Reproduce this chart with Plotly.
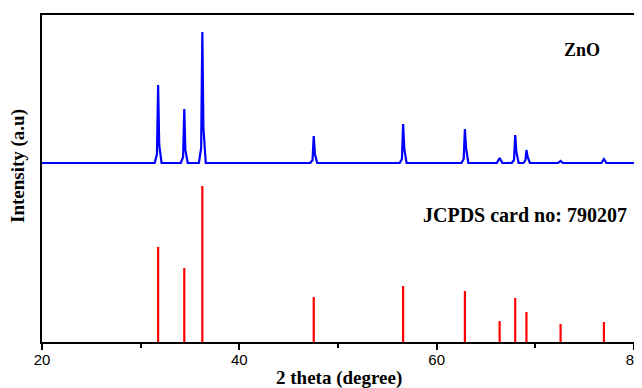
import plotly.graph_objects as go

# Measured XRD pattern of ZnO (2θ in degrees, intensity above its own baseline, a.u.)
xrd_2theta = [20.0,
              31.42, 31.65, 31.77, 31.88, 32.12,
              34.07, 34.30, 34.42, 34.53, 34.77,
              35.90, 36.13, 36.25, 36.36, 36.60,
              47.19, 47.42, 47.54, 47.66, 47.89,
              56.25, 56.48, 56.60, 56.72, 56.95,
              62.51, 62.74, 62.86, 62.98, 63.21,
              66.10, 66.38, 66.66,
              67.61, 67.84, 67.96, 68.08, 68.31,
              68.80, 69.00, 69.10, 69.22, 69.45,
              72.30, 72.56, 72.80,
              76.70, 76.95, 77.20,
              80.0]
xrd_intensity = [0,
                 0, 9, 78, 18, 0,
                 0, 6, 54, 13, 0,
                 0, 15, 131, 35, 0,
                 0, 3, 27, 9, 0,
                 0, 4, 39, 14, 0,
                 0, 4, 34, 15, 0,
                 0, 5, 0,
                 0, 3, 28, 11, 0,
                 0, 3, 13, 6, 0,
                 0, 2, 0,
                 0, 4, 0,
                 0]
xrd_offset = 179

# JCPDS card no: 790207 reference lines
ref_2theta = [31.77, 34.42, 36.25, 47.54, 56.60, 62.86, 66.38, 67.96, 69.10, 72.56, 76.95]
ref_intensity = [95, 74, 156, 45, 56, 51, 21, 44, 30, 18, 20]

x_tickvals = [20, 40, 60, 80]
x_ticktext = ["20", "40", "60", "80"]

# vertical stick lines for the reference pattern
stick_x, stick_y = [], []
for p, h in zip(ref_2theta, ref_intensity):
    stick_x += [p, p, None]
    stick_y += [0, h, None]

fig = go.Figure()
fig.add_trace(go.Scatter(x=stick_x, y=stick_y, mode="lines",
                         line=dict(color="#ff0000", width=2.2), showlegend=False))
fig.add_trace(go.Scatter(x=xrd_2theta, y=[v + xrd_offset for v in xrd_intensity],
                         mode="lines", line=dict(color="#0000ff", width=2.2),
                         showlegend=False))

serif = "Liberation Serif, Times New Roman, serif"
# page is shown with an 8px body margin, so figure coords = page coords - 8
OFF = 8
W, H = 642, 388
L, R, T, B = 42 - OFF, W - (634 - OFF), 15 - OFF, H - (342 - OFF)
pw, ph = W - L - R, H - T - B


def px(x):
    return (x - OFF - L) / pw


def py(y):
    return (H - B - (y - OFF)) / ph


def label(x, y, text, size, xanchor="center", angle=0):
    fig.add_annotation(x=px(x), y=py(y), xref="paper", yref="paper", text=text,
                       xanchor=xanchor, yanchor="middle", textangle=angle,
                       showarrow=False, font=dict(family=serif, size=size, color="black"))


label(582, 50, "<b>ZnO</b>", 18)
label(629, 215, "<b>JCPDS card no: 790207</b>", 20, xanchor="right")
label(339, 378, "<b>2 theta (degree)</b>", 19)
label(18, 166, "<b>Intensity (a.u)</b>", 19, angle=-90)

fig.update_layout(
    width=W, height=H,
    margin=dict(l=L, r=R, t=T, b=B, autoexpand=False),
    plot_bgcolor="white", paper_bgcolor="white",
    xaxis=dict(range=[20, 80], tickvals=x_tickvals, ticktext=x_ticktext,
               ticks="outside", ticklen=6, tickwidth=1.5, tickcolor="black",
               minor=dict(tickvals=[30, 50, 70], ticks="outside", ticklen=4,
                          tickwidth=1.5, tickcolor="black"),
               showline=True, linecolor="black", linewidth=2, mirror=True,
               showgrid=False, zeroline=False, automargin=False,
               ticklabeloverflow="allow", ticklabelstandoff=-3,
               tickfont=dict(family="Liberation Sans, Arial, sans-serif", size=15, color="black")),
    yaxis=dict(range=[0, 327], showticklabels=False, ticks="",
               showline=True, linecolor="black", linewidth=2, mirror=True,
               showgrid=False, zeroline=False, automargin=False),
)

fig.write_html("out.html")
